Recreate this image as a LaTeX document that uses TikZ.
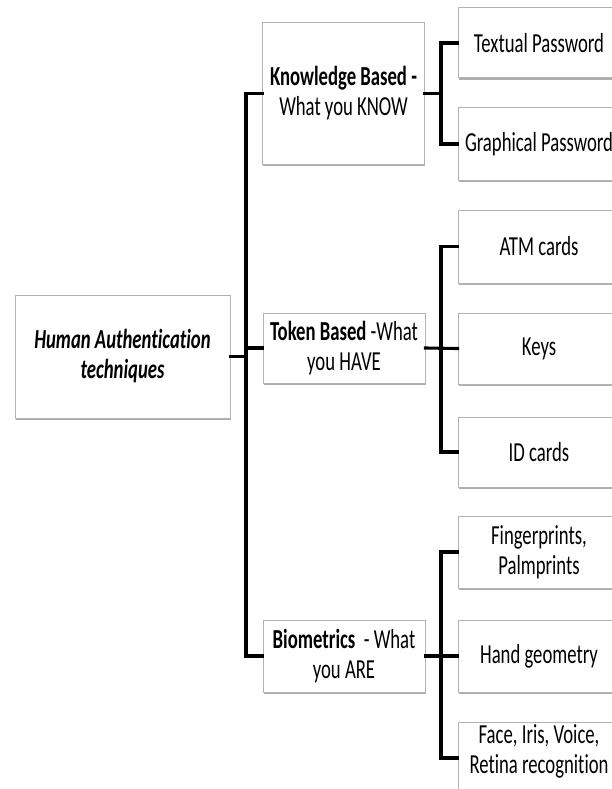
\documentclass[tikz,border=0pt]{standalone}
\usepackage{fontspec}
\setmainfont{Carlito}[FakeStretch=0.68, Ligatures=NoCommon]
\usetikzlibrary{shadows}
\tikzset{
  box/.style={draw=gray!60, line width=1pt, fill=white, rectangle, align=center,
    inner sep=0pt, font=\fontsize{27.5}{30}\selectfont,
    drop shadow={shadow xshift=0.6pt, shadow yshift=-2.2pt, fill=black!45, opacity=0.7}},
  leaf/.style={box, minimum width=162pt, minimum height=71pt},
  mid/.style={box, minimum width=162pt},
  conn/.style={draw=black, line width=3.1pt, line cap=rect, line join=miter},
}
\begin{document}
\begin{tikzpicture}[x=1pt,y=-1pt]
\fill[white] (0,0) rectangle (612,789);
\useasboundingbox (0,0) rectangle (612,789);
\clip (0,0) rectangle (612,789);

% root
\node[box, minimum width=215pt, minimum height=123pt] (root) at (122.5,356.5)
  {\bfseries\itshape Human Authentication\\ \bfseries\itshape techniques};

% second level
\node[mid, minimum height=141pt] (know) at (343.5,93.5)
  {\textbf{Knowledge Based -}\\What you KNOW};
\node[mid, minimum height=70pt] (token) at (344,348)
  {\textbf{Token Based} -What\\you HAVE};
\node[mid, minimum height=72pt] (bio) at (344,656)
  {\textbf{Biometrics}~ - What\\you ARE};

% leaves
\node[leaf, minimum height=70pt] (textual) at (539,43) {Textual Password};
\node[leaf, minimum height=72pt] (graph) at (539,144) {Graphical Password};
\node[leaf, minimum height=73pt] (atm) at (539,246.5) {ATM cards};
\node[leaf] (keys) at (539,348.5) {Keys};
\node[leaf, minimum height=70pt] (idc) at (539,452) {ID cards};
\node[leaf, minimum height=72pt] (finger) at (539,552) {Fingerprints,\\Palmprints};
\node[leaf, minimum height=72pt] (hand) at (539,656) {Hand geometry};
\node[leaf, minimum height=72pt] (face) at (539,758) {};
\node[font=\fontsize{27.5}{30}\selectfont, align=center, inner sep=0pt] (facetxt) at (539,751)
  {Face, Iris, Voice,\\Retina recognition};

% junction coordinates
\coordinate (trunk) at (246,0);
\coordinate (brk) at (441,0);

% trunk
\draw[conn] (know.west -| trunk) -- (bio.west -| trunk);
\draw[conn] (root.east) -- (root.east -| trunk);
\draw[conn] (know.west -| trunk) -- (know.west);
\draw[conn] (token.west -| trunk) -- (token.west);
\draw[conn] (bio.west -| trunk) -- (bio.west);

% knowledge bracket
\draw[conn] (know.east) -- (know.east -| brk);
\draw[conn] (textual.west) -- (textual.west -| brk) -- (graph.west -| brk) -- (graph.west);

% token bracket
\draw[conn] (token.east) -- (keys.west);
\draw[conn] (atm.west) -- (atm.west -| brk) -- (idc.west -| brk) -- (idc.west);

% biometrics bracket
\draw[conn] (bio.east) -- (hand.west);
\draw[conn] (finger.west) -- (finger.west -| brk) -- (face.west -| brk) -- (face.west);
\end{tikzpicture}
\end{document}
